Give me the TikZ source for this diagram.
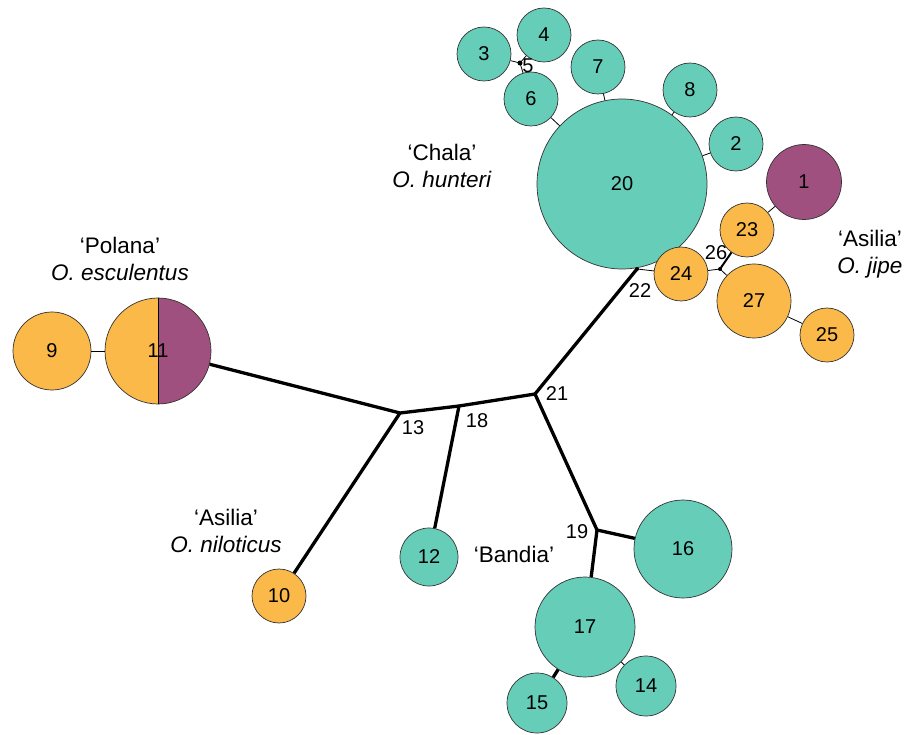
\documentclass[tikz,border=0pt]{standalone}
\usepackage{fontspec}
\setmainfont{Liberation Sans}
\definecolor{hapteal}{RGB}{102,205,184}
\definecolor{haporange}{RGB}{250,185,72}
\definecolor{happurple}{RGB}{160,80,126}

\tikzset{
  hap/.style={shape=circle, draw=black!80, line width=0.7pt, inner sep=0pt,
    font=\fontsize{20}{20}\selectfont},
  teal/.style={hap, fill=hapteal},
  amber/.style={hap, fill=haporange},
  plum/.style={hap, fill=happurple},
  num/.style={font=\fontsize{20}{20}\selectfont, inner sep=1pt},
  taxon/.style={font=\fontsize{22.5}{27}\selectfont, align=center},
  mut/.style={draw, line width=3.3pt},
  link/.style={draw, line width=0.8pt}
}

\begin{document}
\begin{tikzpicture}[x=1pt, y=-1pt]
    \useasboundingbox (0,0) rectangle (916,735);

    % haplotypes
    \node at (622, 184) (h20) [teal, minimum size=170pt] {20};
    \node at (484, 54) (h3) [teal, minimum size=54pt] {3};
    \node at (544, 35) (h4) [teal, minimum size=54pt] {4};
    \node at (531, 99) (h6) [teal, minimum size=54pt] {6};
    \node at (598, 67) (h7) [teal, minimum size=54pt] {7};
    \node at (690, 90) (h8) [teal, minimum size=54pt] {8};
    \node at (736, 144) (h2) [teal, minimum size=54pt] {2};
    \node at (804, 182) (h1) [plum, minimum size=75pt] {1};
    \node at (747, 230) (h23) [amber, minimum size=54pt] {23};
    \node at (681, 274) (h24) [amber, minimum size=54pt] {24};
    \node at (754, 301) (h27) [amber, minimum size=74pt] {27};
    \node at (827, 335) (h25) [amber, minimum size=54pt] {25};
    \node at (52, 351) (h9) [amber, minimum size=78pt] {9};
    \node at (158, 351) (h11) [amber, minimum size=106pt,
      path picture={\fill[happurple] (path picture bounding box.north)
        rectangle (path picture bounding box.south east);}] {11};
    \node at (279, 596) (h10) [amber, minimum size=54pt] {10};
    \node at (429, 557) (h12) [teal, minimum size=58pt] {12};
    \node at (683, 549) (h16) [teal, minimum size=98pt] {16};
    \node at (585, 627) (h17) [teal, minimum size=100pt] {17};
    \node at (646, 686) (h14) [teal, minimum size=60pt] {14};
    \node at (537, 703) (h15) [teal, minimum size=60pt] {15};

    % median vectors
    \coordinate (m5) at (520, 63);
    \coordinate (m13) at (400, 413);
    \coordinate (m18) at (459, 406);
    \coordinate (m21) at (535, 394);
    \coordinate (m19) at (597, 530);
    \coordinate (m22) at (637, 269);
    \coordinate (m26) at (720, 269);

    \node at (528, 66) (l5) [num] {5};
    \node at (413, 428) (l13) [num] {13};
    \node at (477, 421) (l18) [num] {18};
    \node at (557, 394) (l21) [num] {21};
    \node at (577, 532) (l19) [num] {19};
    \node at (640, 291) (l22) [num] {22};
    \node at (716, 253) (l26) [num] {26};

    % taxa
    \node at (120, 259) (tPolana) [taxon] {‘Polana’\\\textit{O. esculentus}};
    \node at (442, 166) (tChala) [taxon] {‘Chala’\\\textit{O. hunteri}};
    \node at (870, 254) (tJipe) [taxon] {‘Asilia’\\\textit{O. jipe}};
    \node at (226, 531) (tNilo) [taxon] {‘Asilia’\\\textit{O. niloticus}};
    \node at (514, 554) (tBandia) [taxon] {‘Bandia’};

    % long branches
    \path[mut] (h11) -- (m13);
    \path[mut] (m13) -- (h10);
    \path[mut] (m13) -- (m18);
    \path[mut] (m18) -- (h12);
    \path[mut] (m18) -- (m21);
    \path[mut] (m21) -- (m22);
    \path[mut] (m21) -- (m19);
    \path[mut] (m19) -- (h16);
    \path[mut] (m19) -- (h17);
    \path[mut] (h17) -- (h15);

    % short branches
    \path[link] (h9) -- (h11);
    \path[link] (h17) -- (h14);
    \path[link] (m22) -- (h24);
    \path[link] (h24) -- (m26);
    \path[link] (m26) -- (h27);
    \path[draw, line width=2pt] (m26) -- (h23);
    \path[link] (h23) -- (h1);
    \path[link] (h27) -- (h25);
    \path[link] (h20) -- (h6);
    \path[link] (h20) -- (h7);
    \path[link] (h20) -- (h8);
    \path[link] (h20) -- (h2);
    \path[link] (h6) -- (m5);
    \path[link] (h3) -- (m5);
    \path[link] (h4) -- (m5);
    \fill (m5) circle[radius=2.5pt];
    \fill (m22) circle[radius=2pt];
    \fill (m26) circle[radius=2pt];

    \path[draw, line width=1pt] (h11.north) -- (h11.south);

\end{tikzpicture}
\end{document}
